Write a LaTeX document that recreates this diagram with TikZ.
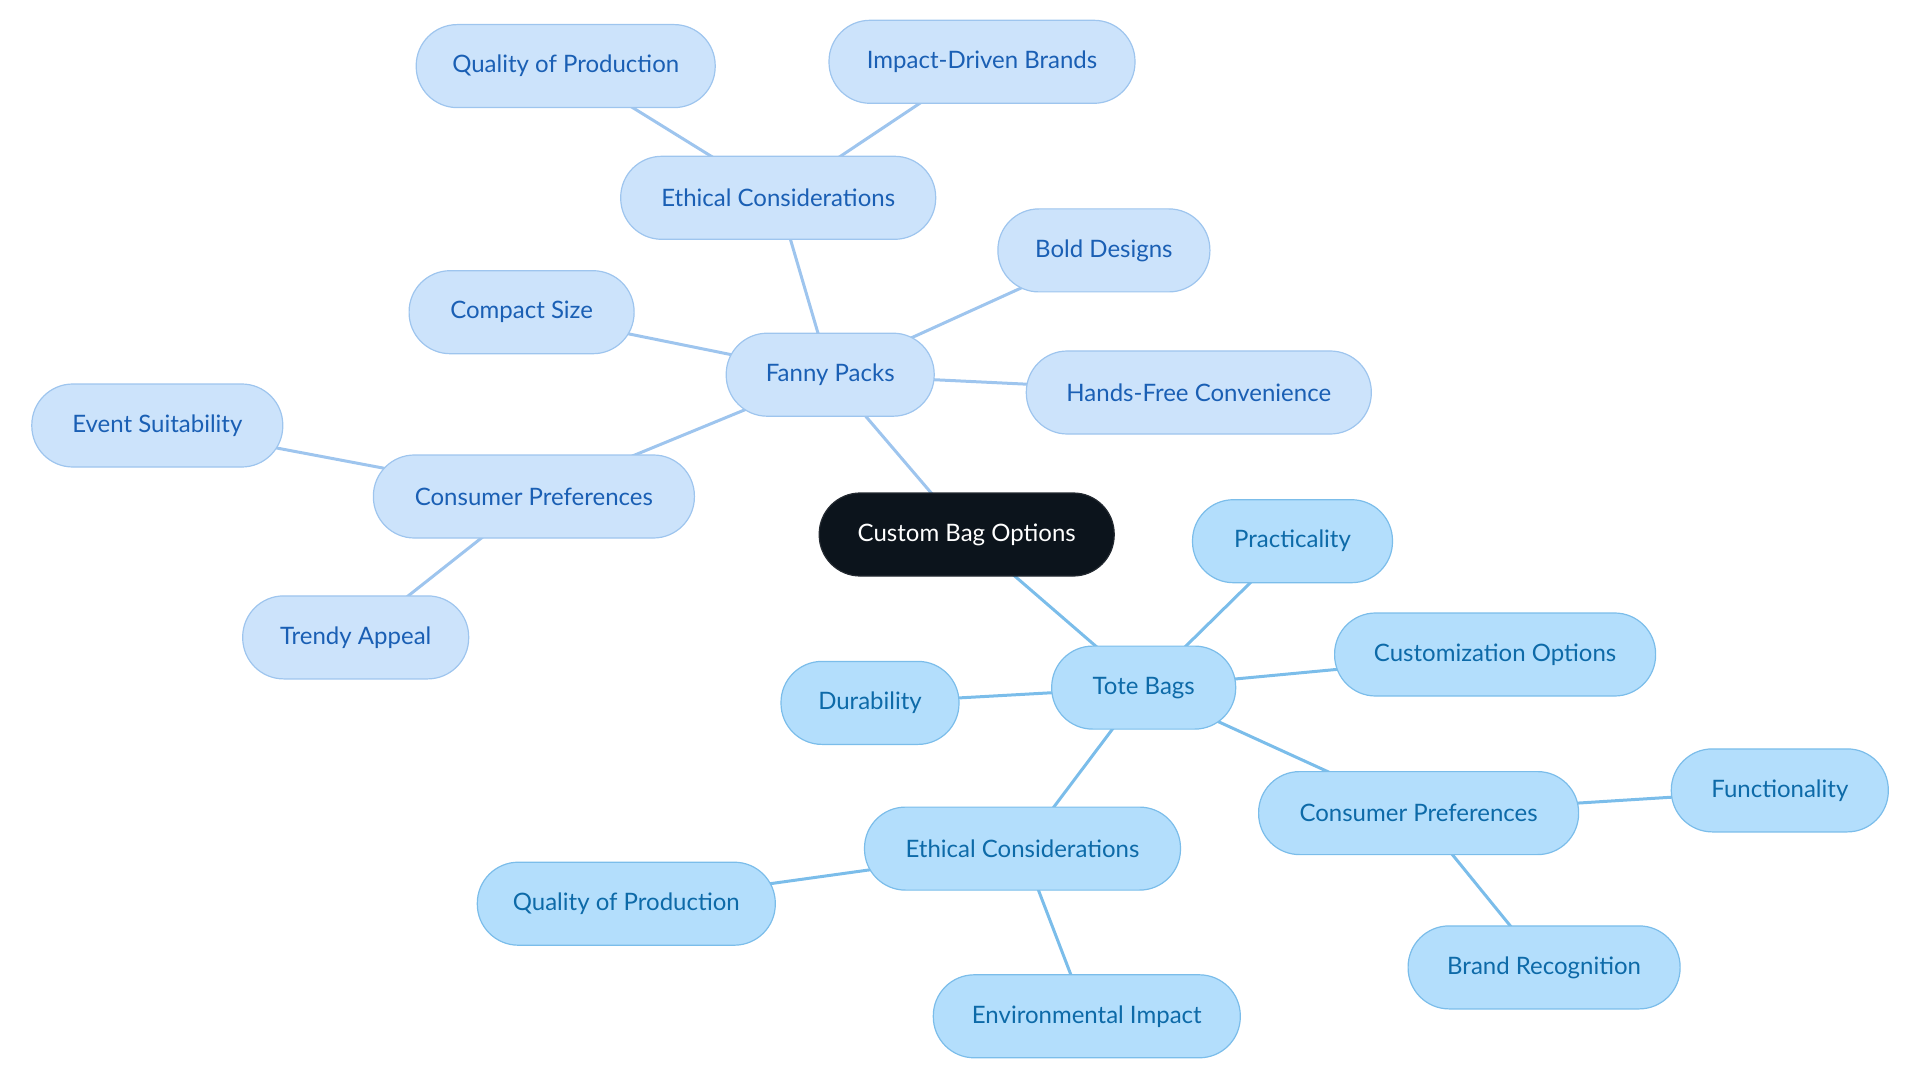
\documentclass[tikz,border=0pt]{standalone}
\usepackage{fontspec}
\setmainfont{Lato}
\usetikzlibrary{backgrounds}

\definecolor{rootfill}{HTML}{0C141C}
\definecolor{fannyfill}{HTML}{CCE3FB}
\definecolor{fannydraw}{HTML}{9EC5EE}
\definecolor{fannytext}{HTML}{1A5FB4}
\definecolor{totefill}{HTML}{B3DEFC}
\definecolor{totedraw}{HTML}{7BBDEA}
\definecolor{totetext}{HTML}{0D6AA8}

\begin{document}
\begin{tikzpicture}[x=1pt, y=-1pt,
    every node/.style={rounded corners=41pt, minimum height=83pt, inner sep=0pt,
        font=\fontsize{24}{28}\selectfont, line width=1.2pt},
    rootbox/.style={fill=rootfill, draw=rootfill!80!gray, text=white},
    fannybox/.style={fill=fannyfill, draw=fannydraw, text=fannytext},
    totebox/.style={fill=totefill, draw=totedraw, text=totetext},
    fannyline/.style={draw=fannydraw, line width=3pt},
    toteline/.style={draw=totedraw, line width=3pt}]

    \useasboundingbox (0,0) rectangle (1920,1083);

    % Root node
    \node[rootbox, minimum width=295pt] (root) at (966.7,534.5) {Custom Bag Options};

    % Fanny packs branch
    \node[fannybox, minimum width=208pt] (fanny) at (830.2,374.7) {Fanny Packs};
    \node[fannybox, minimum width=315pt] (fethic) at (778.2,197.8) {Ethical Considerations};
    \node[fannybox, minimum width=299pt] (fquality) at (565.7,66.1) {Quality of Production};
    \node[fannybox, minimum width=306pt] (impact) at (982,61.8) {Impact-Driven Brands};
    \node[fannybox, minimum width=212pt] (bold) at (1103.9,250.4) {Bold Designs};
    \node[fannybox, minimum width=225pt] (compact) at (521.6,312.2) {Compact Size};
    \node[fannybox, minimum width=345pt] (handsfree) at (1198.8,392.5) {Hands-Free Convenience};
    \node[fannybox, minimum width=321pt] (fconsumer) at (533.9,496.5) {Consumer Preferences};
    \node[fannybox, minimum width=251pt] (event) at (157.3,425.5) {Event Suitability};
    \node[fannybox, minimum width=226pt] (trendy) at (355.7,637.4) {Trendy Appeal};

    % Tote bags branch
    \node[totebox, minimum width=184pt] (tote) at (1143.7,687.6) {Tote Bags};
    \node[totebox, minimum width=200pt] (practical) at (1292.5,541.2) {Practicality};
    \node[totebox, minimum width=321pt] (custom) at (1495.1,654.5) {Customization Options};
    \node[totebox, minimum width=178pt] (durable) at (870,702.9) {Durability};
    \node[totebox, minimum width=320pt] (tconsumer) at (1418.6,813.1) {Consumer Preferences};
    \node[totebox, minimum width=217pt] (function) at (1779.8,790.4) {Functionality};
    \node[totebox, minimum width=272pt] (brand) at (1544.1,967.4) {Brand Recognition};
    \node[totebox, minimum width=316pt] (tethic) at (1022.5,848.6) {Ethical Considerations};
    \node[totebox, minimum width=298pt] (tquality) at (626.3,903.7) {Quality of Production};
    \node[totebox, minimum width=307pt] (environ) at (1086.8,1016.3) {Environmental Impact};

    % Connectors behind the boxes
    \begin{scope}[on background layer]
        \draw[fannyline] (root.center) -- (fanny.center);
        \foreach \n in {fethic, bold, compact, handsfree, fconsumer}
            \draw[fannyline] (fanny.center) -- (\n.center);
        \foreach \n in {fquality, impact}
            \draw[fannyline] (fethic.center) -- (\n.center);
        \foreach \n in {event, trendy}
            \draw[fannyline] (fconsumer.center) -- (\n.center);

        \draw[toteline] (root.center) -- (tote.center);
        \foreach \n in {practical, custom, durable, tconsumer, tethic}
            \draw[toteline] (tote.center) -- (\n.center);
        \foreach \n in {function, brand}
            \draw[toteline] (tconsumer.center) -- (\n.center);
        \foreach \n in {tquality, environ}
            \draw[toteline] (tethic.center) -- (\n.center);
    \end{scope}
\end{tikzpicture}
\end{document}
